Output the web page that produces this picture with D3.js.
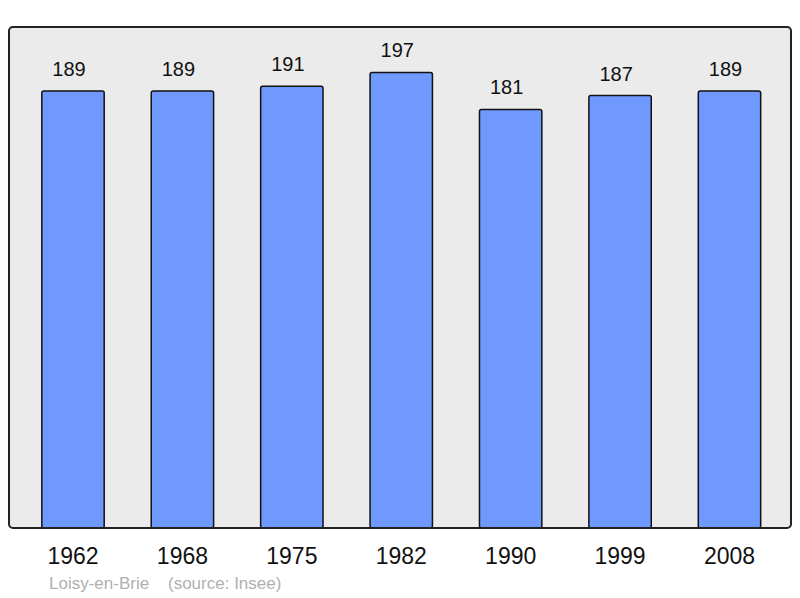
<!DOCTYPE html>
<html>
<head>
<meta charset="utf-8">
<script src="https://cdn.jsdelivr.net/npm/d3@7"></script>
<style>
  body { margin: 0; background: #fff; }
  text { font-family: "Liberation Sans", Arial, sans-serif; }
</style>
</head>
<body>
<div id="chart"></div>
<script>
const years = ["1962", "1968", "1975", "1982", "1990", "1999", "2008"];
const population = [189, 189, 191, 197, 181, 187, 189];
const town = "Loisy-en-Brie";
const source = "(source: Insee)";

const width = 800;
const height = 598;

const svg = d3.select("#chart")
  .append("svg")
  .attr("width", width)
  .attr("height", height);

// panel
svg.append("rect")
  .attr("x", 9)
  .attr("y", 27)
  .attr("width", 782)
  .attr("height", 501)
  .attr("rx", 4)
  .attr("fill", "#ebebeb");

const xScale = d3.scaleBand()
  .domain(years)
  .range([18.3, 784.2])
  .paddingInner(0.43)
  .paddingOuter(0.215);

const yScale = d3.scaleLinear()
  .domain([0, 200])
  .range([528, 65.5]);

const data = years.map((y, i) => ({year: y, value: population[i]}));

const bars = svg.selectAll(".bar")
  .data(data)
  .enter()
  .append("g")
  .attr("class", "bar");

bars.append("rect")
  .attr("x", d => xScale(d.year))
  .attr("y", d => yScale(d.value))
  .attr("width", xScale.bandwidth())
  .attr("height", d => yScale(0) - yScale(d.value))
  .attr("rx", 2)
  .attr("fill", "#7099ff")
  .attr("stroke", "#111")
  .attr("stroke-width", 1.5);

bars.append("text")
  .attr("x", d => xScale(d.year) + xScale.bandwidth() / 2 - 4)
  .attr("y", d => yScale(d.value) - 15)
  .attr("text-anchor", "middle")
  .attr("font-size", "20px")
  .attr("fill", "#111")
  .text(d => d.value);

// panel border on top of bar bottoms
svg.append("rect")
  .attr("x", 9)
  .attr("y", 27)
  .attr("width", 782)
  .attr("height", 501)
  .attr("rx", 4)
  .attr("fill", "none")
  .attr("stroke", "#222")
  .attr("stroke-width", 2);

const xAxis = d3.axisBottom(xScale).tickSize(0).tickPadding(0);

svg.append("g")
  .attr("transform", "translate(0, 548)")
  .call(xAxis)
  .call(g => g.select(".domain").remove())
  .selectAll("text")
    .attr("font-size", "23px")
    .attr("fill", "#111")
    .attr("dy", "0.71em")
    .attr("y", 0);

svg.append("text")
  .attr("x", 49)
  .attr("y", 589)
  .attr("font-size", "17px")
  .attr("fill", "#b0b0b0")
  .text(town);

svg.append("text")
  .attr("x", 168)
  .attr("y", 589)
  .attr("font-size", "17px")
  .attr("fill", "#b0b0b0")
  .text(source);
</script>
</body>
</html>
